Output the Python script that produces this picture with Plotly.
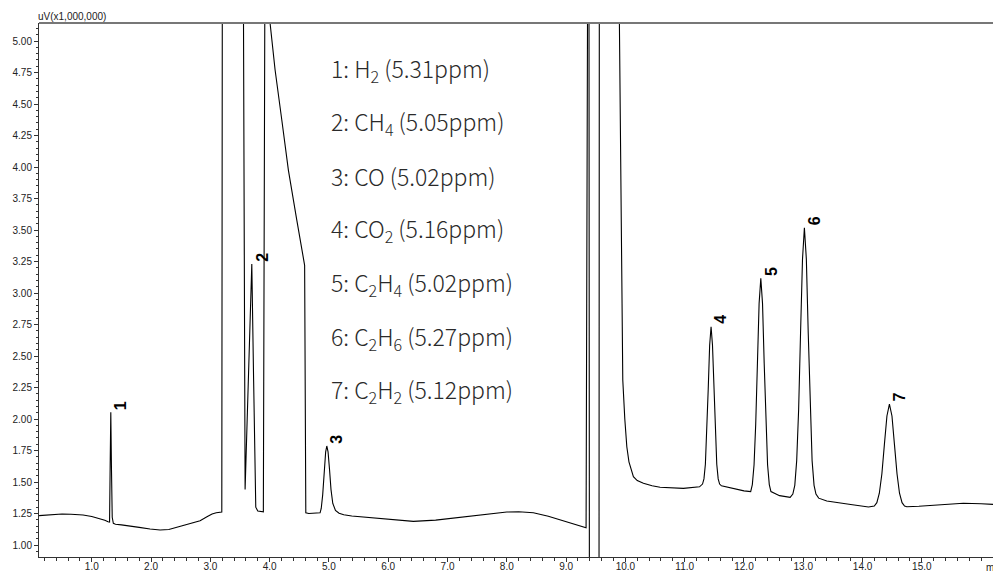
import plotly.graph_objects as go

# Chromatogram (time in min, signal in uV x1,000,000)
time_min = [
    0.111, 0.200, 0.297, 0.400, 0.499, 0.650, 0.853, 1.000, 1.140, 1.220, 1.275, 1.300, 1.310, 1.321, 1.332, 1.345, 1.364, 1.400,
    1.500, 1.646, 1.800, 1.983, 2.152, 2.300, 2.439, 2.600, 2.827, 2.950, 3.029, 3.100, 3.193, 3.203,
    3.553, 3.586, 3.640, 3.699, 3.730, 3.766, 3.800, 3.894, 3.923,
    3.990, 4.007, 4.092, 4.205, 4.316, 4.458, 4.569, 4.590, 4.610,
    4.660, 4.851, 4.870, 4.895, 4.920, 4.945, 4.964, 4.985, 5.010, 5.035, 5.065, 5.110, 5.171, 5.250, 5.385,
    5.638, 6.000, 6.424, 6.800, 7.212, 7.600, 8.000, 8.200, 8.448, 8.700, 8.899, 9.100, 9.337, 9.366,
    9.385, 9.393, 9.555, 9.561,
    9.885, 9.899, 9.927, 9.956, 9.990, 10.024, 10.060, 10.100, 10.135, 10.200, 10.304, 10.450, 10.585, 10.978, 11.250,
    11.301, 11.325, 11.349, 11.373, 11.397, 11.421, 11.445, 11.469, 11.493, 11.517, 11.541, 11.565, 11.589,
    11.620, 11.800, 12.000,
    12.113, 12.141, 12.170, 12.198, 12.227, 12.255, 12.284, 12.313, 12.341, 12.370, 12.398, 12.427, 12.455,
    12.600, 12.779,
    12.824, 12.857, 12.889, 12.922, 12.954, 12.987, 13.019, 13.052, 13.084, 13.117, 13.149, 13.182, 13.214,
    13.260, 13.397, 13.800, 14.100,
    14.198, 14.241, 14.283, 14.326, 14.368, 14.411, 14.453, 14.496, 14.538, 14.581, 14.623, 14.666, 14.708,
    14.747, 14.950, 15.195, 15.450, 15.700, 16.000, 16.200,
]
signal = [
    1.233, 1.237, 1.240, 1.244, 1.246, 1.244, 1.238, 1.227, 1.210, 1.196, 1.185, 1.182, 1.620, 2.053, 1.620, 1.220, 1.172, 1.165,
    1.160, 1.153, 1.140, 1.127, 1.119, 1.123, 1.140, 1.163, 1.193, 1.226, 1.246, 1.256, 1.262, 6.000,
    6.000, 1.440, 2.350, 3.230, 2.300, 1.300, 1.270, 1.264, 6.000,
    5.600, 5.143, 4.770, 4.373, 3.976, 3.579, 3.275, 3.220, 1.256,
    1.250, 1.256, 1.290, 1.400, 1.580, 1.740, 1.786, 1.740, 1.600, 1.440, 1.330, 1.275, 1.252, 1.240, 1.230,
    1.220, 1.204, 1.188, 1.198, 1.220, 1.243, 1.262, 1.264, 1.256, 1.228, 1.198, 1.170, 1.137, 6.000,
    6.000, 0.500, 0.500, 6.000,
    6.000, 5.143, 3.738, 2.310, 2.000, 1.780, 1.660, 1.590, 1.542, 1.512, 1.490, 1.470, 1.458, 1.450, 1.462,
    1.484, 1.525, 1.641, 1.880, 2.236, 2.585, 2.733, 2.585, 2.236, 1.880, 1.641, 1.525, 1.484,
    1.470, 1.450, 1.430,
    1.424, 1.480, 1.637, 1.961, 2.443, 2.916, 3.117, 2.916, 2.443, 1.961, 1.637, 1.480, 1.424,
    1.392, 1.378,
    1.404, 1.474, 1.670, 2.075, 2.678, 3.269, 3.518, 3.269, 2.678, 2.075, 1.670, 1.474, 1.404,
    1.372, 1.350, 1.322, 1.302,
    1.309, 1.336, 1.411, 1.566, 1.797, 2.024, 2.119, 2.024, 1.797, 1.566, 1.411, 1.336, 1.309,
    1.304, 1.308, 1.317, 1.325, 1.331, 1.328, 1.323,
]

peak_labels = ["1", "2", "3", "4", "5", "6", "7"]
peak_times = [1.321, 3.699, 4.964, 11.445, 12.284, 13.019, 14.453]
peak_heights = [2.053, 3.230, 1.786, 2.733, 3.117, 3.518, 2.119]

legend_lines = [
    "1: H<sub>2</sub> (5.31ppm)",
    "2: CH<sub>4</sub> (5.05ppm)",
    "3: CO (5.02ppm)",
    "4: CO<sub>2</sub> (5.16ppm)",
    "5: C<sub>2</sub>H<sub>4</sub> (5.02ppm)",
    "6: C<sub>2</sub>H<sub>6</sub> (5.27ppm)",
    "7: C<sub>2</sub>H<sub>2</sub> (5.12ppm)",
]

x_tick_values = [1, 2, 3, 4, 5, 6, 7, 8, 9, 10, 11, 12, 13, 14, 15]
x_range = [0.11, 16.2]
y_range = [0.905, 5.143]

fig = go.Figure()
fig.add_trace(go.Scatter(x=time_min, y=signal, mode="lines",
                         line=dict(color="black", width=1.1), hoverinfo="skip",
                         showlegend=False))

tick_font = dict(family="Liberation Sans, Arial", size=10, color="#222")
fig.update_xaxes(range=x_range, showline=True, linecolor="#333", linewidth=1,
                 ticks="outside", ticklen=4, tickcolor="#333",
                 tickmode="array", tickvals=x_tick_values,
                 ticktext=[f"{v:.1f}" for v in x_tick_values],
                 ticklabelstandoff=-4,
                 tickfont=tick_font, showgrid=False, zeroline=False,
                 minor=dict(dtick=0.2, tick0=0, ticks="outside", ticklen=3, tickcolor="#333"),
                 automargin=False, fixedrange=True)
fig.update_yaxes(range=y_range, showline=True, linecolor="#333", linewidth=1,
                 ticks="outside", ticklen=4, tickcolor="#333", dtick=0.25, tick0=0,
                 tickformat=".2f", tickfont=tick_font, showgrid=False, zeroline=False,
                 minor=dict(dtick=0.05, ticks="outside", ticklen=2, tickcolor="#333"),
                 automargin=False, fixedrange=True)

annotations = []
for lab, t, h in zip(peak_labels, peak_times, peak_heights):
    annotations.append(dict(x=t, y=h, xref="x", yref="y", text=lab, showarrow=False,
                            textangle=-90, xshift=10, yshift=7,
                            font=dict(family="Liberation Sans, Arial", size=16,
                                      color="black", weight="bold")))
for i, line in enumerate(legend_lines):
    annotations.append(dict(x=0, y=1, xref="paper", yref="paper", text=line,
                            showarrow=False, xanchor="left", yanchor="middle",
                            xshift=290, yshift=-(46 + 53.6 * i),
                            font=dict(family="Noto Sans CJK JP", size=23,
                                      color="#2a2a2a", weight=300)))
annotations.append(dict(x=0, y=1, xref="paper", yref="paper", text="uV(x1,000,000)",
                        showarrow=False, xanchor="left", yanchor="bottom",
                        xshift=-3, yshift=-1, font=tick_font))
annotations.append(dict(x=1, y=0, xref="paper", yref="paper", text="min",
                        showarrow=False, xanchor="left", yanchor="top",
                        xshift=-9, yshift=-3, font=tick_font))

fig.update_layout(
    width=993, height=572,
    margin=dict(l=39, r=0, t=23, b=15),
    paper_bgcolor="white", plot_bgcolor="white",
    annotations=annotations,
    shapes=[dict(type="line", xref="paper", yref="paper", x0=0, x1=1, y0=1, y1=1,
                 line=dict(color="#777", width=2))],
)

fig.write_html("out.html")
